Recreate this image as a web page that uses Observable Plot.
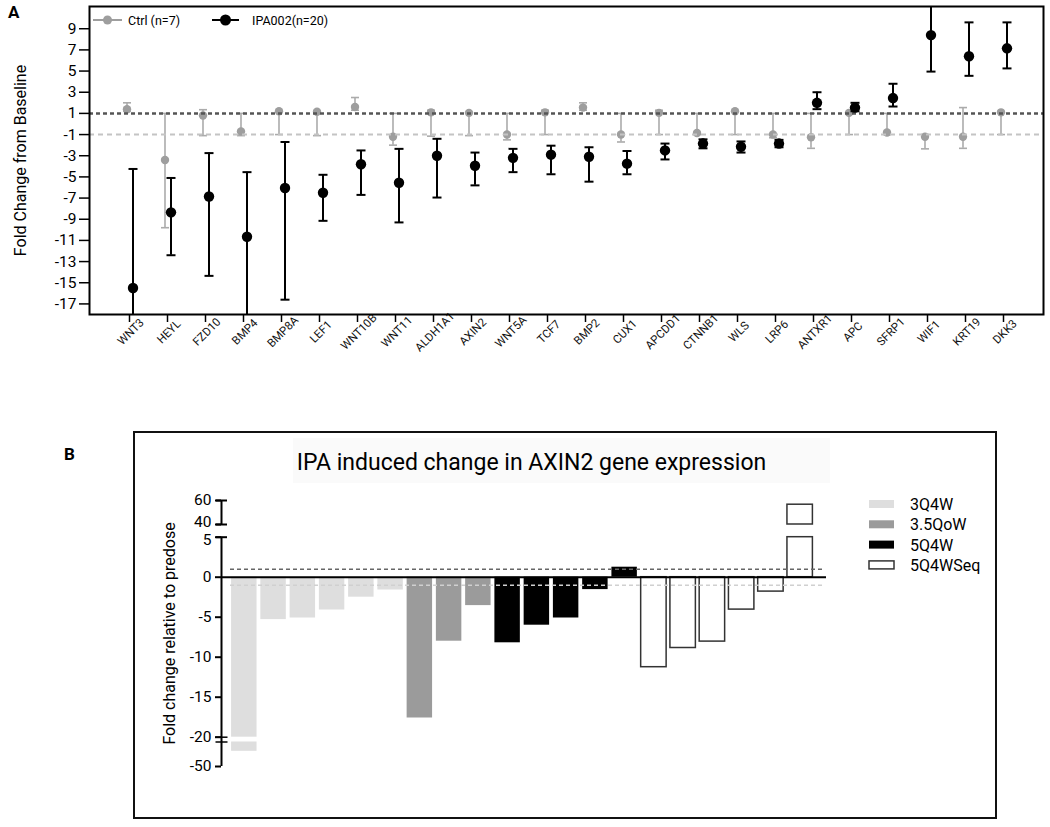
<!DOCTYPE html>
<html>
<head>
<meta charset="utf-8">
<script src="https://cdn.jsdelivr.net/npm/d3@7"></script>
<script src="https://cdn.jsdelivr.net/npm/@observablehq/plot@0.6"></script>
<style>
  html, body { margin: 0; padding: 0; background: #fff; }
  body { width: 1050px; height: 827px; position: relative; overflow: hidden; font-family: Roboto, "DejaVu Sans", sans-serif; color: #000; }
  .abs { position: absolute; }
  #panelA, #panelB { position: absolute; left: 0; }
  #panelA { top: 0; }
  #panelB { top: 380px; }
</style>
</head>
<body>
<div class="abs" style="left:8px;top:2px;font-weight:bold;font-size:17px;">A</div>
<div class="abs" style="left:64px;top:444px;font-weight:bold;font-size:17px;">B</div>
<div class="abs" style="left:133px;top:431px;width:860px;height:384px;border:2px solid #111;"></div>
<div class="abs" style="left:293px;top:438px;width:537px;height:45px;background:#fafafa;"></div>
<div class="abs" id="titleB" style="left:283px;top:450px;width:497px;text-align:center;font-size:23px;line-height:26px;white-space:nowrap;"></div>
<div id="panelA"></div>
<div id="panelB"></div>
<svg class="abs" id="legendA" style="left:0;top:0;" width="400" height="40"></svg>
<svg class="abs" id="legendB" style="left:860px;top:490px;" width="140" height="90"></svg>
<script>
// ---------- Panel A data ----------
const genes = ["WNT3","HEYL","FZD10","BMP4","BMP8A","LEF1","WNT10B","WNT11","ALDH1A1","AXIN2","WNT5A","TCF7","BMP2","CUX1","APCDD1","CTNNB1","WLS","LRP6","ANTXR1","APC","SFRP1","WIF1","KRT19","DKK3"];
const ctrlMean = [1.4, -3.4, 0.8, -0.7, 1.2, 1.15, 1.6, -1.2, 1.1, 1.05, -1.0, 1.1, 1.55, -1.0, 1.05, -0.85, 1.2, -1.0, -1.25, 1.05, -0.8, -1.2, -1.2, 1.1];
const ctrlHi   = [2.0, 1.0, 1.35, 1.0, 1.2, 1.15, 2.5, 1.0, 1.3, 1.05, 1.0, 1.3, 2.0, 1.0, 1.3, 1.0, 1.2, 1.0, 1.0, 1.05, 1.0, -1.0, 1.55, 1.1];
const ctrlLo   = [1.2, -9.8, -1.1, -1.1, -1.0, -1.1, 1.3, -2.0, -1.15, -1.1, -1.5, -1.0, 1.3, -1.7, -1.0, -1.0, -1.0, -1.3, -2.3, -1.0, -1.0, -2.35, -2.3, -1.0];
const ipaMean  = [-15.5, -8.35, -6.85, -10.65, -6.05, -6.5, -3.8, -5.55, -3.0, -3.95, -3.2, -2.9, -3.1, -3.75, -2.5, -1.85, -2.15, -1.85, 2.0, 1.55, 2.45, 8.4, 6.4, 7.15];
const ipaHi    = [-4.25, -5.1, -2.75, -4.55, -1.7, -4.8, -2.5, -2.35, -1.4, -2.7, -2.35, -2.05, -2.2, -2.55, -1.85, -1.45, -1.65, -1.5, 3.0, 2.0, 3.8, 12.5, 9.6, 9.6];
const ipaLo    = [-20, -12.4, -14.35, -20, -16.6, -9.15, -6.7, -9.3, -6.95, -5.8, -4.55, -4.75, -5.45, -4.75, -3.35, -2.3, -2.7, -2.2, 1.4, 1.2, 1.65, 4.95, 4.55, 5.25];
const yTicksA  = [9, 7, 5, 3, 1, -1, -3, -5, -7, -9, -11, -13, -15, -17];
const seriesA  = ["Ctrl (n=7)", "IPA002(n=20)"];
const labelA   = "Fold Change from Baseline";

// ---------- Panel B data ----------
const titleB = "IPA induced change in AXIN2 gene expression";
const labelB = "Fold change relative to predose";
const groupsB = ["3Q4W", "3.5QoW", "5Q4W", "5Q4WSeq"];
const v3Q4W    = [-32, -5.3, -5.1, -4.1, -2.5, -1.6];
const v35QoW   = [-17.6, -8.0, -3.55];
const v5Q4W    = [-8.2, -6.0, -5.1, -1.55, 1.25];
const v5Q4WSeq = [-11.25, -8.85, -8.05, -4.05, -1.8, 56.5];
const yTicksB  = [60, 0, -5, -10, -15, -20, -50];
const yTickB40 = [40];
const yTickB5  = [5];
const breakLow = [-20, -21];   // lower axis break
const breakHigh = [5, 40];     // upper axis break

// ---------- styles ----------
const ctrlColor = "#9e9e9e", ctrlBarColor = "#ababab";
const groupFills = ["#dedede", "#9b9b9b", "#000000", "#ffffff"];
const font = 'Roboto, "DejaVu Sans", sans-serif';

// rows
const rowsA = genes.map((g, i) => ({gene: g, cm: ctrlMean[i], ch: ctrlHi[i], cl: ctrlLo[i], im: ipaMean[i], ih: ipaHi[i], il: ipaLo[i]}));
const capSymbol = { draw(ctx, size) { const w = Math.sqrt(size / Math.PI); ctx.moveTo(-w, 0); ctx.lineTo(w, 0); } };
const dxC = -2.5, dxI = 3.5;

const plotA = Plot.plot({
  width: 1050, height: 380,
  marginLeft: 89, marginRight: 7, marginTop: 6, marginBottom: 66,
  style: {fontFamily: font, fontSize: "15px", background: "transparent", overflow: "visible"},
  x: {type: "point", domain: genes, padding: 1, axis: null},
  y: {domain: [-18, 11.1], axis: null},
  marks: [
    Plot.axisY({ticks: yTicksA, tickFormat: d => String(d), tickSize: 10, tickPadding: 3, fontSize: 15.5, strokeWidth: 1.5, label: null}),
    Plot.axisX({tickSize: 8, tickFormat: () => "", strokeWidth: 1.5, label: null}),
    Plot.text(genes, {x: d => d, frameAnchor: "bottom", dy: 20, dx: 4, rotate: -45, textAnchor: "middle", fontSize: 11.5, fill: "#111"}),
    Plot.text([labelA], {frameAnchor: "left", dx: -69, rotate: -90, textAnchor: "middle", fontSize: 16}),
    // control
    Plot.ruleX(rowsA, {x: "gene", y1: "cl", y2: "ch", dx: dxC, stroke: ctrlBarColor, strokeWidth: 1.6, clip: true}),
    Plot.dot(rowsA, {x: "gene", y: "ch", dx: dxC, symbol: capSymbol, r: 4, stroke: ctrlBarColor, strokeWidth: 1.6, fill: "none", clip: true}),
    Plot.dot(rowsA, {x: "gene", y: "cl", dx: dxC, symbol: capSymbol, r: 4, stroke: ctrlBarColor, strokeWidth: 1.6, fill: "none", clip: true}),
    Plot.dot(rowsA, {x: "gene", y: "cm", dx: dxC, r: 4.2, fill: ctrlColor, stroke: "none"}),
    // reference lines
    Plot.ruleY([1], {stroke: "#555", strokeWidth: 2.5, strokeDasharray: "4,3"}),
    Plot.ruleY([-1], {stroke: "#c4c4c4", strokeWidth: 2, strokeDasharray: "5,4"}),
    // IPA002
    Plot.ruleX(rowsA, {x: "gene", y1: "il", y2: "ih", dx: dxI, stroke: "#000", strokeWidth: 2, clip: true}),
    Plot.dot(rowsA, {x: "gene", y: "ih", dx: dxI, symbol: capSymbol, r: 4.5, stroke: "#000", strokeWidth: 2, fill: "none", clip: true}),
    Plot.dot(rowsA, {x: "gene", y: "il", dx: dxI, symbol: capSymbol, r: 4.5, stroke: "#000", strokeWidth: 2, fill: "none", clip: true}),
    Plot.dot(rowsA, {x: "gene", y: "im", dx: dxI, r: 5.2, fill: "#000", stroke: "none"}),
    Plot.frame({stroke: "#000", strokeWidth: 2})
  ]
});
document.getElementById("panelA").append(plotA);

// legend A
(function() {
  const svg = d3.select("#legendA");
  const items = [
    {x: 93, w: 29, color: ctrlColor, r: 4.5, label: seriesA[0], tx: 128},
    {x: 212, w: 27, color: "#000", r: 5.5, label: seriesA[1], tx: 252}
  ];
  for (const it of items) {
    svg.append("line").attr("x1", it.x).attr("x2", it.x + it.w).attr("y1", 20).attr("y2", 20).attr("stroke", it.color).attr("stroke-width", 2);
    svg.append("circle").attr("cx", it.x + it.w / 2).attr("cy", 20).attr("r", it.r).attr("fill", it.color);
    svg.append("text").attr("x", it.tx).attr("y", 24.5).attr("font-family", font).attr("font-size", 12.5).text(it.label);
  }
})();

// ---------- Panel B ----------
document.getElementById("titleB").textContent = titleB;
const valuesB = [v3Q4W, v35QoW, v5Q4W, v5Q4WSeq];
const barsB = [];
valuesB.forEach((vals, g) => vals.forEach(v => barsB.push({group: groupsB[g], v, i: barsB.length})));
const pieces = [];
for (const b of barsB) {
  pieces.push({...b, y1: 0, y2: Math.max(breakLow[0], Math.min(breakHigh[0], b.v))});
  if (b.v > breakHigh[0]) pieces.push({...b, y1: breakHigh[1], y2: b.v});
  if (b.v < breakLow[0]) pieces.push({...b, y1: breakLow[1], y2: b.v});
}
const xDomainB = [-0.28, 20.4];
const tickTextB = {x: xDomainB[0], y: d => d, text: d => String(d), dx: -10, textAnchor: "end", fontSize: 15.5};
const plotB = Plot.plot({
  width: 1050, height: 447,
  marginLeft: 221, marginRight: 224, marginTop: 120, marginBottom: 61,
  style: {fontFamily: font, fontSize: "16px", background: "transparent", overflow: "visible"},
  x: {type: "linear", domain: xDomainB, axis: null},
  y: {type: "linear", domain: [-50, -21, -20, 5, 40, 60], range: [386, 361.5, 356.7, 156.7, 144, 120], axis: null},
  color: {domain: groupsB, range: groupFills},
  marks: [
    Plot.rect(pieces, {x1: "i", x2: d => d.i + 1, y1: "y1", y2: "y2", insetLeft: 1.9, insetRight: 1.9, fill: "group",
      stroke: d => d.group === "5Q4WSeq" ? "#333" : "none", strokeWidth: 1.5}),
    Plot.ruleY([0], {stroke: "#000", strokeWidth: 2}),
    Plot.ruleY([1], {stroke: "#666", strokeWidth: 1.5, strokeDasharray: "4,3", insetLeft: 9, insetRight: 3}),
    Plot.ruleY([-1], {stroke: "#d0d0d0", strokeWidth: 1.5, strokeDasharray: "4,3", insetLeft: 9, insetRight: 3}),
    Plot.axisY({ticks: [...yTicksB, ...yTickB40, ...yTickB5], tickFormat: () => "", tickSize: 6, strokeWidth: 2, label: null}),
    Plot.text(yTicksB, tickTextB),
    Plot.text(yTickB40, {...tickTextB, dy: -2}),
    Plot.text(yTickB5, {...tickTextB, dy: 2.5}),
    Plot.ruleX([[-50, 5], [40, 60]], {x: xDomainB[0], y1: d => d[0], y2: d => d[1], stroke: "#000", strokeWidth: 2}),
    Plot.dot(breakLow, {x: xDomainB[0], y: d => d, symbol: capSymbol, r: 6, stroke: "#000", strokeWidth: 1.5, fill: "none"}),
    Plot.dot([60, 40, 5], {x: xDomainB[0], y: d => d, symbol: capSymbol, r: 5.5, stroke: "#000", strokeWidth: 2, fill: "none"}),
    Plot.text([labelB], {frameAnchor: "left", dx: -52, rotate: -90, textAnchor: "middle", fontSize: 16})
  ]
});
document.getElementById("panelB").append(plotB);

// legend B
(function() {
  const svg = d3.select("#legendB");
  groupsB.forEach((g, k) => {
    const cy = 14 + k * 20.3;
    svg.append("rect").attr("x", 9).attr("y", cy - 4).attr("width", 25).attr("height", 8)
      .attr("fill", groupFills[k]).attr("stroke", g === "5Q4WSeq" ? "#333" : "none").attr("stroke-width", 1.5);
    svg.append("text").attr("x", 50).attr("y", cy + 6).attr("font-family", font).attr("font-size", 16).text(g);
  });
})();
</script>
</body>
</html>
